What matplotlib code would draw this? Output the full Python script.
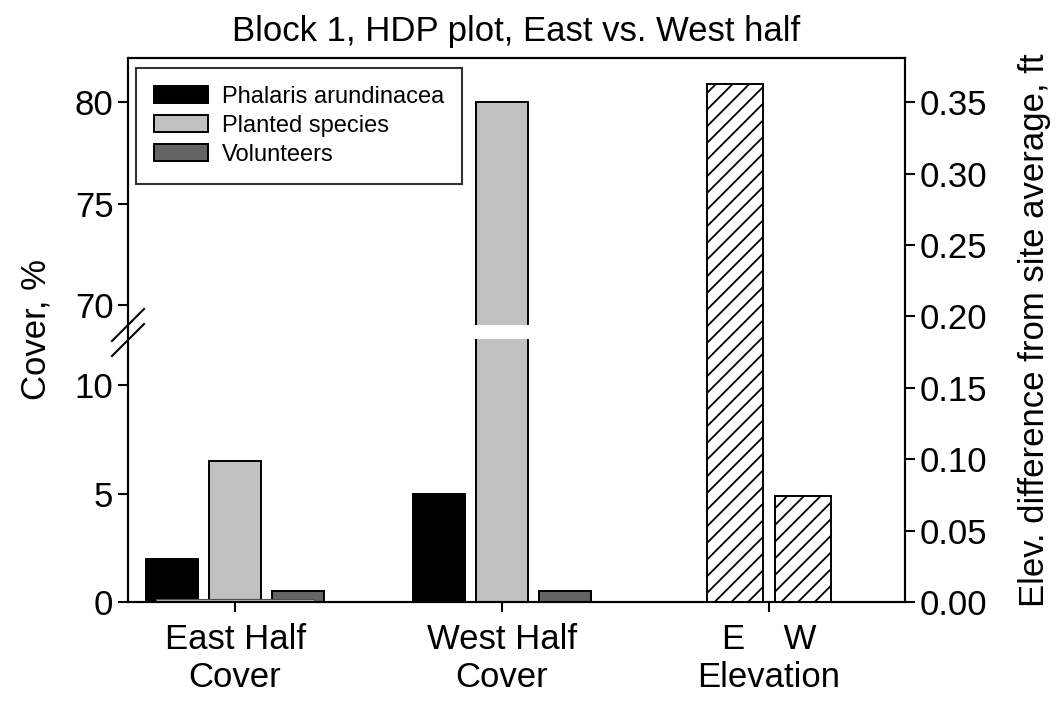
import numpy as np
import matplotlib
matplotlib.use("Agg")
import matplotlib.pyplot as plt

plt.rcParams['font.family'] = ['Liberation Sans', 'DejaVu Sans']
plt.rcParams['hatch.linewidth'] = 1.3

# ---- data ----
groups = ["East Half\nCover", "West Half\nCover", "E    W\nElevation"]
series = ["Phalaris arundinacea", "Planted species", "Volunteers"]
east_cover = [2.0, 6.5, 0.5]
west_cover = [5.0, 80.0, 0.5]
east_planted_base = 0.15     # thin planted-colour strip under East group
elev_labels = ["E", "W"]
elev_values = [0.363, 0.074]

colors = ["#000000", "#c0c0c0", "#646464"]

# piecewise (broken) scale for the cover axis
brk_vals = np.array([-100.0, 0.0, 12.2, 69.0, 200.0])
brk_px = np.array([-2170.0, 0.0, 264.7, 276.7, 297.0 + 130 * 20.3])

def fwd(v):
    return np.interp(v, brk_vals, brk_px)

def inv(p):
    return np.interp(p, brk_px, brk_vals)

FS = 25

fig = plt.figure(figsize=(10.62, 7.05), dpi=100)
ax = fig.add_axes([128 / 1062, 1 - 602 / 705, 777 / 1062, 544 / 705])
ax.set_yscale('function', functions=(fwd, inv))
ax.set_ylim(0, 82.17)
ax.set_xlim(-0.401, 2.509)

offsets = [-0.236, 0.0, 0.236]
width = 0.195
for i, name in enumerate(series):
    ax.bar([0 + offsets[i], 1 + offsets[i]], [east_cover[i], west_cover[i]],
           width=width, color=colors[i], edgecolor="black", linewidth=1.4,
           label=name, zorder=2)
ax.bar([0], [east_planted_base], width=0.59, color=colors[1],
       edgecolor="#505050", linewidth=0.8, zorder=3)

# white gap across the broken region
ax.axhspan(12.12, 69.0, color="white", zorder=4, lw=0)

# break marks on the left spine
for dy in (0.0, -0.0276):
    ax.plot([-0.0206, 0.0206], [0.4798 + dy, 0.5386 + dy], color="black",
            lw=1.5, transform=ax.transAxes, clip_on=False, zorder=6)

ax.set_yticks([0, 5, 10, 70, 75, 80])
ax.set_yticklabels(["0", "5", "10", "70", "75", "80"])
ax.set_xticks([0, 1, 2])
ax.set_xticklabels(groups)
ax.tick_params(axis='both', labelsize=FS, width=1.5, length=7, direction='out')
ax.tick_params(axis='x', pad=8)
ax.set_ylabel("Cover, %", fontsize=FS, labelpad=16)
for s in ax.spines.values():
    s.set_linewidth(1.5)
    s.set_zorder(5)

ax2 = ax.twinx()
ax2.set_ylim(0, 0.381)
ax2.bar([2 - 0.126, 2 + 0.126], elev_values, width=0.21, color="white",
        edgecolor="black", linewidth=1.4, hatch="//", zorder=2)
ax2.set_yticks(np.arange(0, 0.351, 0.05))
ax2.set_yticklabels([f"{t:.2f}" for t in np.arange(0, 0.351, 0.05)])
ax2.tick_params(axis='y', labelsize=FS, width=1.5, length=7, direction='out')
ax2.set_ylabel("Elev. difference from site average, ft", fontsize=FS, labelpad=22)
for s in ax2.spines.values():
    s.set_linewidth(1.5)

leg = ax.legend(loc="upper left", bbox_to_anchor=(8 / 777, 1 - 10 / 544),
                fontsize=17, frameon=True, fancybox=False, edgecolor="black",
                handlelength=2.3, handleheight=0.7, borderpad=0.75,
                labelspacing=0.3, handletextpad=0.6, borderaxespad=0)
leg.get_frame().set_linewidth(1.5)
leg.set_zorder(10)

ax.set_title("Block 1, HDP plot, East vs. West half", fontsize=FS, pad=12)

fig.savefig("out.png", dpi=100)
